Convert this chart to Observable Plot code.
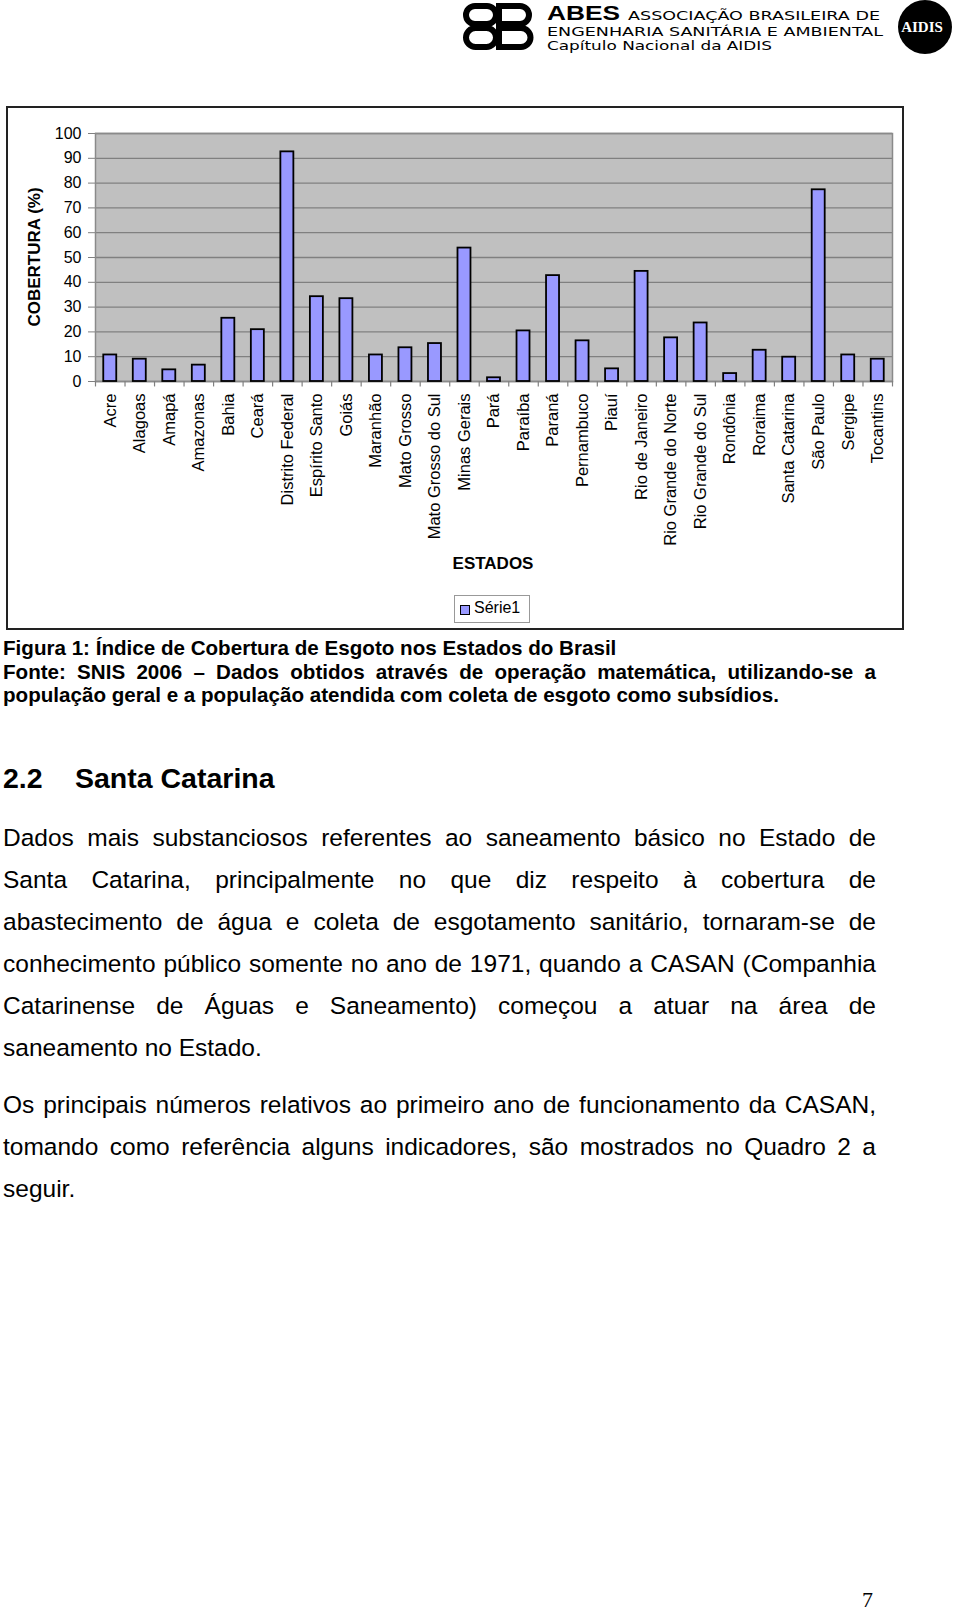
<!DOCTYPE html>
<html lang="pt">
<head>
<meta charset="utf-8">
<script src="https://cdn.jsdelivr.net/npm/d3@7"></script>
<script src="https://cdn.jsdelivr.net/npm/@observablehq/plot@0.6"></script>
<style>
  html, body { margin: 0; padding: 0; background: #fff; }
  #page { position: relative; width: 960px; height: 1612px; overflow: hidden; font-family: "Liberation Sans", Arial, sans-serif; color: #000; }
  .abs { position: absolute; }
  .line { position: absolute; left: 3px; width: 873px; white-space: nowrap; }
  .just { text-align: justify; text-align-last: justify; }
</style>
</head>
<body>
<div id="page"></div>
<script>
// ---- chart data ----
const estados = ["Acre","Alagoas","Amapá","Amazonas","Bahia","Ceará","Distrito Federal","Espírito Santo","Goiás","Maranhão","Mato Grosso","Mato Grosso do Sul","Minas Gerais","Pará","Paraíba","Paraná","Pernambuco","Piauí","Rio de Janeiro","Rio Grande do Norte","Rio Grande do Sul","Rondônia","Roraima","Santa Catarina","São Paulo","Sergipe","Tocantins"];
const cobertura = [10.7, 9.0, 4.7, 6.6, 25.5, 20.9, 92.6, 34.2, 33.4, 10.7, 13.6, 15.3, 53.8, 1.5, 20.4, 42.7, 16.4, 5.1, 44.4, 17.6, 23.6, 3.2, 12.6, 9.8, 77.3, 10.7, 9.0];
const yTicks = [0, 10, 20, 30, 40, 50, 60, 70, 80, 90, 100];
const yTitle = "COBERTURA (%)";
const xTitle = "ESTADOS";
const serieName = "Série1";

// ---- page text ----
const captionLines = [
  ["Figura 1: Índice de Cobertura de Esgoto nos Estados do Brasil", false],
  ["Fonte: SNIS 2006 – Dados obtidos através de operação matemática, utilizando-se a", true],
  ["população geral e a população atendida com coleta de esgoto como subsídios.", false]
];
const heading = ["2.2", "Santa Catarina"];
const para1 = [
  ["Dados mais substanciosos referentes ao saneamento básico no Estado de", true],
  ["Santa Catarina, principalmente no que diz respeito à cobertura de", true],
  ["abastecimento de água e coleta de esgotamento sanitário, tornaram-se de", true],
  ["conhecimento público somente no ano de 1971, quando a CASAN (Companhia", true],
  ["Catarinense de Águas e Saneamento) começou a atuar na área de", true],
  ["saneamento no Estado.", false]
];
const para2 = [
  ["Os principais números relativos ao primeiro ano de funcionamento da CASAN,", true],
  ["tomando como referência alguns indicadores, são mostrados no Quadro 2 a", true],
  ["seguir.", false]
];

const page = document.getElementById("page");

// ---- header (logo) ----
page.insertAdjacentHTML("beforeend", `
<svg class="abs" style="left:0;top:0" width="960" height="60">
  <g fill="none" stroke="#000" stroke-width="6">
    <rect x="466" y="6" width="30" height="18" rx="9"/>
    <rect x="466" y="28" width="30" height="19" rx="9.5"/>
    <path d="M499 6 H520 A9 9 0 0 1 520 24 H499 Z"/>
    <path d="M499 28 H521 A9.5 9.5 0 0 1 521 47 H499 Z"/>
  </g>
  <text x="547" y="19.5" font-family="Liberation Sans, Arial" font-weight="bold" font-size="21" textLength="73" lengthAdjust="spacingAndGlyphs">ABES</text>
  <text x="628" y="20" font-family="DejaVu Sans" font-size="12" textLength="252" lengthAdjust="spacingAndGlyphs">ASSOCIAÇÃO BRASILEIRA DE</text>
  <text x="547" y="35.5" font-family="DejaVu Sans" font-size="12" textLength="336" lengthAdjust="spacingAndGlyphs">ENGENHARIA SANITÁRIA E AMBIENTAL</text>
  <text x="547" y="50" font-family="DejaVu Sans" font-size="12.5" textLength="225" lengthAdjust="spacingAndGlyphs">Capítulo Nacional da AIDIS</text>
  <circle cx="925" cy="27" r="27" fill="#000"/>
  <text x="922" y="32" text-anchor="middle" fill="#fff" font-family="Liberation Serif" font-weight="bold" font-size="15">AIDIS</text>
</svg>`);

// ---- chart ----
const W = 960, H = 521, ML = 95, MR = 68, MT = 26, MB = 247;
const step = (W - ML - MR) / estados.length;
const data = estados.map((e, i) => ({estado: e, cobertura: cobertura[i]}));

const chart = Plot.plot({
  width: W, height: H,
  marginLeft: ML, marginRight: MR, marginTop: MT, marginBottom: MB,
  style: {fontFamily: "'Liberation Sans', Arial, sans-serif", color: "#000", background: "transparent", overflow: "visible"},
  x: {domain: estados, paddingInner: 0.56, paddingOuter: 0.28, round: false, label: null},
  y: {domain: [0, 100], label: null},
  marks: [
    Plot.frame({fill: "#c0c0c0", stroke: "none"}),
    Plot.gridY({ticks: yTicks, stroke: "#808080", strokeOpacity: 1, strokeWidth: 1.3}),
    Plot.frame({stroke: "#8a8a8a", strokeWidth: 1.5}),
    Plot.ruleX(estados, {x: d => d, y1: 0, y2: -2.2, dx: -step / 2, stroke: "#808080", strokeWidth: 1.2}),
    Plot.ruleX([estados[estados.length - 1]], {x: d => d, y1: 0, y2: -2.2, dx: step / 2, stroke: "#808080", strokeWidth: 1.2}),
    Plot.barY(data, {x: "estado", y: "cobertura", fill: "#9999ff", stroke: "#000", strokeWidth: 1.8}),
    Plot.axisY({ticks: yTicks, tickSize: 7, tickPadding: 7, fontSize: 16, stroke: "#808080", fill: "#000", label: null}),
    Plot.axisX({tickRotate: -90, tickSize: 0, tickPadding: 12, fontSize: 16.5, fill: "#000", label: null})
  ]
});
chart.style.position = "absolute";
chart.style.left = "0px";
chart.style.top = "107px";
page.appendChild(chart);

// outer chart border
page.insertAdjacentHTML("beforeend", `<div class="abs" style="left:6px;top:106px;width:894px;height:520px;border:2px solid #222"></div>`);

// y title
page.insertAdjacentHTML("beforeend", `<div class="abs" style="left:35px;top:257px;transform:translate(-50%,-50%) rotate(-90deg);font-weight:bold;font-size:17px;white-space:nowrap">${yTitle}</div>`);
// x title
page.insertAdjacentHTML("beforeend", `<div class="abs" style="left:493px;top:554px;transform:translateX(-50%);font-weight:bold;font-size:17px;line-height:20px;white-space:nowrap">${xTitle}</div>`);
// legend
page.insertAdjacentHTML("beforeend", `<div class="abs" style="left:454px;top:595px;width:76px;height:28px;border:1px solid #999;box-sizing:border-box"></div>
<div class="abs" style="left:460px;top:605px;width:10px;height:10px;background:#9999ff;border:1px solid #000;box-sizing:border-box"></div>
<div class="abs" style="left:474px;top:598px;font-size:16px;line-height:20px;white-space:nowrap">${serieName}</div>`);

// caption
captionLines.forEach(([t, j], i) => {
  page.insertAdjacentHTML("beforeend", `<div class="line${j ? " just" : ""}" style="top:${636 + i * 23.5}px;font-size:20.6px;line-height:23.5px;font-weight:bold">${t}</div>`);
});
// heading
page.insertAdjacentHTML("beforeend", `<div class="abs" style="left:3px;top:761px;font-size:28.5px;line-height:34px;font-weight:bold;white-space:nowrap">${heading[0]}<span style="position:absolute;left:72px">${heading[1]}</span></div>`);
// paragraphs
para1.forEach(([t, j], i) => {
  page.insertAdjacentHTML("beforeend", `<div class="line${j ? " just" : ""}" style="top:${816.5 + i * 42}px;font-size:24.5px;line-height:42px">${t}</div>`);
});
para2.forEach(([t, j], i) => {
  page.insertAdjacentHTML("beforeend", `<div class="line${j ? " just" : ""}" style="top:${1083.5 + i * 42}px;font-size:24.5px;line-height:42px">${t}</div>`);
});
// page number
page.insertAdjacentHTML("beforeend", `<div class="abs" style="left:862px;top:1589.5px;font-family:'Liberation Serif',serif;font-size:22px;line-height:20px">7</div>`);
</script>
</body>
</html>
